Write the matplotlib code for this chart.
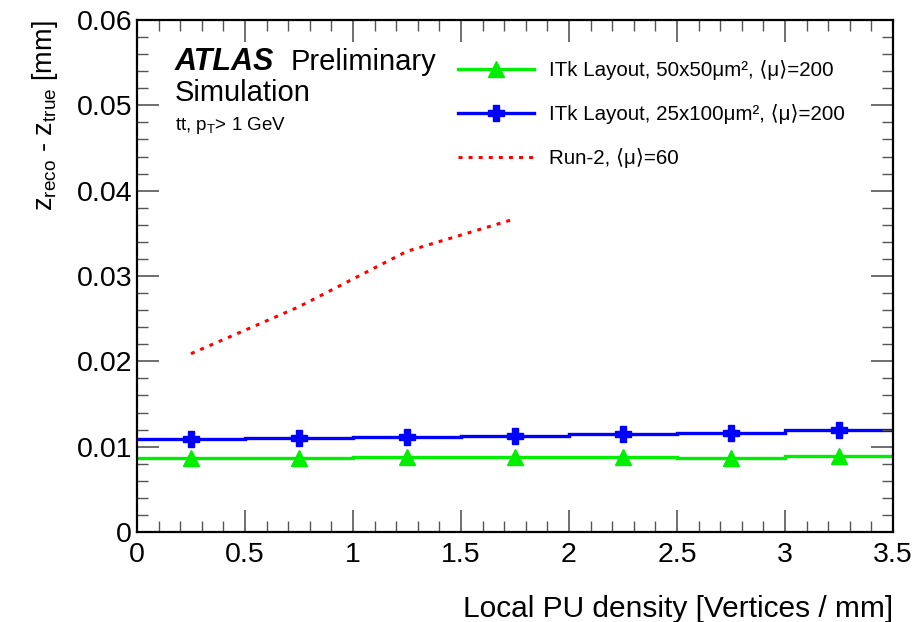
import numpy as np
import matplotlib
matplotlib.use("Agg")
import matplotlib.pyplot as plt
from matplotlib.ticker import MultipleLocator, FuncFormatter
from matplotlib.lines import Line2D

plt.rcParams['font.family'] = ['Liberation Sans', 'DejaVu Sans']
plt.rcParams['mathtext.default'] = 'regular'

# bin edges and centres (local PU density)
edges = [0.0, 0.5, 1.0, 1.5, 2.0, 2.5, 3.0, 3.5]
centres = [0.25, 0.75, 1.25, 1.75, 2.25, 2.75, 3.25]

# z_reco - z_true resolution [mm]
itk_50x50 = [0.00872, 0.00872, 0.00875, 0.00875, 0.00875, 0.00873, 0.00887]
itk_25x100 = [0.01086, 0.01102, 0.01110, 0.01121, 0.01145, 0.01157, 0.01192]
run2_x = [0.25, 0.75, 1.25, 1.75]
run2 = [0.0209, 0.0264, 0.0329, 0.0367]

green = '#00ee00'
blue = '#0000ff'
red = '#ff0000'

fig = plt.figure(figsize=(9.17, 6.22), dpi=100)
ax = fig.add_axes([0.1494, 0.1447, 0.8244, 0.8231])

ax.stairs(itk_50x50, edges, color=green, lw=2.4, baseline=None)
ax.plot(centres, itk_50x50, ls='none', marker='^', ms=12, color=green)
ax.stairs(itk_25x100, edges, color=blue, lw=2.4, baseline=None)
ax.plot(centres, itk_25x100, ls='none', marker='P', ms=12, color=blue)
ax.plot(run2_x, run2, color=red, lw=2.2, ls=(0, (1.3, 2.0)))

ax.set_xlim(0, 3.5)
ax.set_ylim(0, 0.06)
ax.xaxis.set_major_locator(MultipleLocator(0.5))
ax.xaxis.set_minor_locator(MultipleLocator(0.1))
ax.yaxis.set_major_locator(MultipleLocator(0.01))
ax.yaxis.set_minor_locator(MultipleLocator(0.002))
fmt = FuncFormatter(lambda v, p: '%g' % round(v, 4))
ax.xaxis.set_major_formatter(fmt)
ax.yaxis.set_major_formatter(fmt)
ax.tick_params(which='both', direction='in', top=True, right=True, labelsize=20.5, color='#555555')
ax.tick_params(which='major', length=16, width=1.2)
ax.tick_params(which='minor', length=8, width=1.0)
ax.tick_params(axis='x', pad=7)
for s in ax.spines.values():
    s.set_linewidth(1.6)

ax.set_xlabel('Local PU density [Vertices / mm]', fontsize=21.5, loc='right', labelpad=20)
ax.set_ylabel('z$_{reco}$ - z$_{true}$ [mm]', fontsize=19.5, loc='top', labelpad=12)

ax.text(0.05, 0.947, 'ATLAS', transform=ax.transAxes, fontsize=22, fontweight='bold',
        fontstyle='italic', va='top')
ax.text(0.203, 0.945, 'Preliminary', transform=ax.transAxes, fontsize=21, va='top')
ax.text(0.05, 0.884, 'Simulation', transform=ax.transAxes, fontsize=21, va='top')
ax.text(0.05, 0.815, 'tt, p$_{T}$> 1 GeV', transform=ax.transAxes, fontsize=13.5, va='top')

handles = [
    Line2D([], [], color=green, lw=2.4, marker='^', ms=12),
    Line2D([], [], color=blue, lw=2.4, marker='P', ms=12),
    Line2D([], [], color=red, lw=2.2, ls=(0, (1.3, 2.0))),
]
labels = [
    'ITk Layout, 50x50μm², ⟨μ⟩=200',
    'ITk Layout, 25x100μm², ⟨μ⟩=200',
    'Run-2, ⟨μ⟩=60',
]
ax.legend(handles, labels, loc='upper left', bbox_to_anchor=(0.40, 0.958), frameon=False,
          fontsize=14.8, handlelength=3.7, handletextpad=0.75, labelspacing=1.17)

fig.savefig('out.png', dpi=100)
